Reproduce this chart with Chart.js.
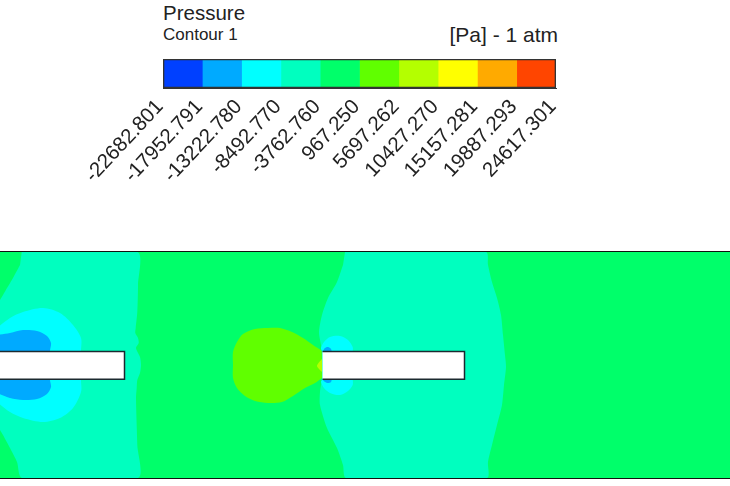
<!DOCTYPE html>
<html lang="en">
<head>
  <meta charset="UTF-8" />
  <title>Pressure Contour 1</title>
  <script src="https://cdn.jsdelivr.net/npm/chart.js"></script>
  <style>
    html, body { margin: 0; background: #fff; }
    body { width: 730px; height: 486px; position: relative; overflow: hidden; font-family: "Liberation Sans", Arial, sans-serif; color: #222; }
    canvas { position: absolute; left: 0; }
    #legendChart { top: 0; }
    #contourChart { top: 251px; }
    .label { position: absolute; white-space: nowrap; line-height: 1; }
    #name { left: 163px; top: 3px; font-size: 20.5px; }
    #sub { left: 163px; top: 26px; font-size: 17px; }
    #unit { right: 172px; top: 24px; font-size: 21px; }
  </style>
</head>
<body>
  <div class="label" id="name">Pressure</div>
  <div class="label" id="sub">Contour 1</div>
  <div class="label" id="unit">[Pa] - 1 atm</div>
  <canvas id="legendChart" width="730" height="190"></canvas>
  <canvas id="contourChart" width="730" height="228"></canvas>

<script>
  // colour bar levels
  const levels = [-22682.801, -17952.791, -13222.780, -8492.770, -3762.760, 967.250, 5697.262, 10427.270, 15157.281, 19887.293, 24617.301];
  const bandColors = ['#0040ff', '#00aaff', '#00ffff', '#00ffbf', '#00ff6a', '#60ff00', '#b4ff00', '#ffff00', '#ffaa00', '#ff4500'];

  // contour outlines as [x, y], y measured from the channel centre line
  const domain = [[-5, 113], [735, 113], [735, -113], [-5, -113]];
  const band4Left = [[21.7, 113], [137.3, 113], [138, 80], [137.3, 53], [135.7, 37], [135.3, 32], [138, 27], [138.7, 22], [136, 17], [140, 8], [141, 0], [140, -8], [137.3, -15], [136.7, -23], [136, -33], [137.3, -80], [138, -113], [22, -113], [17, -97], [10, -83], [3, -70], [-3, -58], [-3, 58], [3, 70], [13, 87], [20, 100]];
  const band4Mid = [[345, 113], [486, 113], [488, 100], [492, 83], [497, 67], [501, 50], [503, 30], [505, 10], [506, -2], [504, -20], [502, -40], [497, -60], [492, -80], [488, -97], [487, -113], [346, -113], [343, -100], [337, -83], [327, -63], [320, -40], [320, -27], [322, -13], [322, 13], [321, 20], [319, 33], [322, 50], [328, 67], [337, 83], [343, 100]];
  const band3Left = [[-3, 37], [10, 47], [23, 53], [43, 57], [60, 52], [73, 40], [81, 27], [81, 14], [81, -15], [81, -27], [73, -43], [60, -53], [43, -57], [23, -53], [10, -47], [-3, -37]];
  const band2Left = [[-3, 30], [10, 32], [23, 35], [37, 34], [47, 29], [51, 22], [50, 14], [50, -15], [51, -22], [47, -29], [37, -34], [23, -35], [10, -33], [-3, -28]];
  const band3Nose = [[328, 5], [322, 14], [321, 17], [324, 23], [330, 28], [340, 29], [348, 25], [352.7, 18], [352.7, 13], [352.7, -14], [352.7, -20], [348, -26], [340, -30], [330, -28], [324, -23], [321, -17], [322, -15], [328, -5]];
  const band2NoseTop = [[323, 12], [323, 14], [325, 17], [328, 18], [331, 16], [332, 12]];
  const band2NoseBottom = [[323, -13], [323, -15], [325, -17], [328, -18], [331, -17], [332, -13]];
  const band6Blob = [[321.7, 14.3], [313, 20], [303, 27], [292, 33], [280, 37], [268, 37], [255, 36], [243, 31], [237, 23], [233, 13], [233, 0], [233, -13], [237, -23], [245, -31], [255, -36], [268, -38], [282, -37], [293, -31], [305, -23], [315, -18], [322, -13]];
  const band7Nose = [[322, 6], [318.5, 2], [317, -1], [319, -4], [322, -7]];
  const plate1 = [[-5, 13.5], [124.5, 13.5], [124.5, -14.3], [-5, -14.3]];
  const plate2 = [[322.5, 13.5], [464.5, 13.5], [464.5, -14.3], [322.5, -14.3]];
  const wallTop = [[-5, 113.5], [735, 113.5]];
  const wallBottom = [[-5, -113.5], [735, -113.5]];

  function region(points, color, tension) {
    return {
      type: 'scatter', showLine: true, data: points, backgroundColor: color, borderColor: color,
      borderWidth: 0, pointRadius: 0, fill: 'shape', tension: tension
    };
  }

  function plate(points) {
    const ds = region(points, '#ffffff', 0);
    ds.borderColor = '#1c2a30';
    ds.borderWidth = 1.5;
    return ds;
  }

  function wall(points) {
    return { type: 'scatter', showLine: true, data: points, borderColor: '#111', borderWidth: 1, pointRadius: 0, fill: false };
  }

  // painted back to front
  const layers = [
    region(domain, bandColors[4], 0),
    region(band4Left, bandColors[3], 0.25),
    region(band4Mid, bandColors[3], 0.25),
    region(band6Blob, bandColors[5], 0.3),
    region(band7Nose, bandColors[6], 0.3),
    region(band3Left, bandColors[2], 0.3),
    region(band2Left, bandColors[1], 0.3),
    region(band3Nose, bandColors[2], 0.3),
    region(band2NoseTop, bandColors[1], 0.3),
    region(band2NoseBottom, bandColors[1], 0.3),
    plate(plate1),
    plate(plate2),
    wall(wallTop),
    wall(wallBottom)
  ];
  layers.forEach((ds, i) => { ds.order = layers.length - i; });

  new Chart(document.getElementById('contourChart'), {
    type: 'scatter',
    data: { datasets: layers },
    options: {
      responsive: false,
      animation: false,
      devicePixelRatio: 1,
      layout: { padding: 0 },
      plugins: { legend: { display: false }, tooltip: { enabled: false } },
      scales: {
        x: { type: 'linear', min: 0, max: 730, display: false },
        y: { type: 'linear', min: -114, max: 114, display: false }
      }
    }
  });

  const bandSets = bandColors.map((color, i) => ({
    data: [[levels[i], levels[i + 1]]],
    backgroundColor: color,
    grouped: false,
    barPercentage: 1,
    categoryPercentage: 1,
    order: 2
  }));
  bandSets.push({
    data: [[levels[0], levels[levels.length - 1]]],
    backgroundColor: 'rgba(0,0,0,0)',
    borderColor: '#333',
    borderWidth: 1,
    borderSkipped: false,
    grouped: false,
    barPercentage: 1,
    categoryPercentage: 1,
    order: 1
  });

  new Chart(document.getElementById('legendChart'), {
    type: 'bar',
    data: { labels: ['Pressure'], datasets: bandSets },
    options: {
      indexAxis: 'y',
      responsive: false,
      animation: false,
      devicePixelRatio: 1,
      layout: { padding: { left: 163, right: 174, top: 59, bottom: 0 } },
      plugins: { legend: { display: false }, tooltip: { enabled: false } },
      scales: {
        y: { display: false },
        x: {
          type: 'linear',
          min: levels[0],
          max: levels[levels.length - 1],
          afterBuildTicks: axis => { axis.ticks = levels.map(v => ({ value: v })); },
          afterFit: axis => { axis.height = 102; },
          grid: { display: false, drawTicks: true, tickLength: 5, tickColor: '#333' },
          border: { display: true, color: '#333' },
          ticks: {
            autoSkip: false,
            minRotation: 47,
            maxRotation: 47,
            padding: 2,
            labelOffset: -3,
            color: '#222',
            font: { family: '"Liberation Sans", Arial, sans-serif', size: 20.5 },
            callback: v => v.toFixed(3)
          }
        }
      }
    }
  });
</script>
</body>
</html>
